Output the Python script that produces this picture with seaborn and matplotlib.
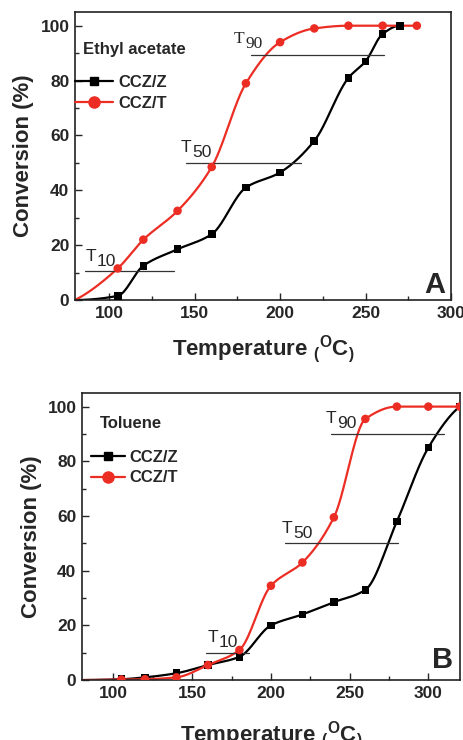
import numpy as np
import pandas as pd
import matplotlib
matplotlib.use("Agg")
import matplotlib.pyplot as plt
import seaborn as sns
from matplotlib.lines import Line2D
from matplotlib.ticker import MultipleLocator

# ---------------- data ----------------
# Panel A: Ethyl acetate
temp_a_z = [105, 120, 140, 160, 180, 200, 220, 240, 250, 260, 270]
conv_a_z = [1.5, 12.5, 18.5, 24, 41, 46.5, 58, 81, 87, 97, 100]
temp_a_t = [105, 120, 140, 160, 180, 200, 220, 240, 260, 280]
conv_a_t = [11.5, 22, 32.5, 48.5, 79, 94, 99, 100, 100, 100]

# Panel B: Toluene
temp_b_z = [105, 120, 140, 160, 180, 200, 220, 240, 260, 280, 300, 320]
conv_b_z = [0.3, 1, 2.5, 5.5, 8.5, 20, 24, 28.5, 33, 58, 85, 100]
temp_b_t = [105, 120, 140, 160, 180, 200, 220, 240, 260, 280, 300, 320]
conv_b_t = [0.2, 0.3, 1, 5.5, 11, 34.5, 43, 59.5, 95.5, 100, 100, 100]

# T10 / T50 / T90 reference segments: (level, x_start, x_end)
tlines_a = [(10.5, 86, 138), (50, 145, 212), (89.5, 183, 261)]
tlines_b = [(10, 159, 186), (50, 209, 281), (90, 238, 310)]
tlabel_x_a = [86, 142, 173]
tlabel_x_b = [160, 207, 235]
tlabels = ["10", "50", "90"]

series_names = ["CCZ/Z", "CCZ/T"]
RED = "#ec2d24"
BLACK = "#000000"

sns.set_theme(style="ticks")
plt.rcParams["font.family"] = ["Liberation Sans", "DejaVu Sans"]
plt.rcParams["mathtext.fontset"] = "custom"
plt.rcParams["mathtext.rm"] = "Liberation Sans"
plt.rcParams["mathtext.bf"] = "Liberation Sans:bold"
plt.rcParams["mathtext.it"] = "Liberation Sans:italic"


def pchip(x, y, xs):
    x = np.asarray(x, float)
    y = np.asarray(y, float)
    h = np.diff(x)
    delta = np.diff(y) / h
    n = len(x)
    d = np.zeros(n)
    for k in range(1, n - 1):
        if delta[k - 1] * delta[k] > 0:
            w1 = 2 * h[k] + h[k - 1]
            w2 = h[k] + 2 * h[k - 1]
            d[k] = (w1 + w2) / (w1 / delta[k - 1] + w2 / delta[k])
    d[0] = ((2 * h[0] + h[1]) * delta[0] - h[0] * delta[1]) / (h[0] + h[1])
    if np.sign(d[0]) != np.sign(delta[0]):
        d[0] = 0
    d[-1] = ((2 * h[-1] + h[-2]) * delta[-1] - h[-1] * delta[-2]) / (h[-1] + h[-2])
    if np.sign(d[-1]) != np.sign(delta[-1]):
        d[-1] = 0
    idx = np.clip(np.searchsorted(x, xs) - 1, 0, n - 2)
    t = (xs - x[idx]) / h[idx]
    h00 = 2 * t**3 - 3 * t**2 + 1
    h10 = t**3 - 2 * t**2 + t
    h01 = -2 * t**3 + 3 * t**2
    h11 = t**3 - t**2
    return h00 * y[idx] + h10 * h[idx] * d[idx] + h01 * y[idx + 1] + h11 * h[idx] * d[idx + 1]


def smooth_df(tx, cy, name):
    xx = np.concatenate([[80.0], tx])
    yy = np.concatenate([[0.0], cy])
    xs = np.linspace(xx[0], xx[-1], 400)
    return pd.DataFrame({"T": xs, "C": pchip(xx, yy, xs), "s": name})


fig = plt.figure(figsize=(4.64, 7.40), dpi=100)
axA = fig.add_axes([0.1616, 0.5946, 0.972 - 0.1616, 0.9838 - 0.5946])
axB = fig.add_axes([0.1767, 0.081, 0.991 - 0.1767, 0.469 - 0.081])

panels = [
    dict(ax=axA, tz=temp_a_z, cz=conv_a_z, tt=temp_a_t, ct=conv_a_t, tl=tlines_a, tlx=tlabel_x_a,
         xlim=(80, 300), title="Ethyl acetate", tpos=(0.021, 0.87), letter="A",
         lpos=(0.984, 0.025), leg=(0.0, 0.782), hl=2.3),
    dict(ax=axB, tz=temp_b_z, cz=conv_b_z, tt=temp_b_t, ct=conv_b_t, tl=tlines_b, tlx=tlabel_x_b,
         xlim=(80, 320), title="Toluene", tpos=(0.048, 0.895), letter="B",
         lpos=(0.981, 0.042), leg=(0.025, 0.803), hl=2.0),
]

for p in panels:
    ax = p["ax"]
    dz = smooth_df(p["tz"], p["cz"], "CCZ/Z")
    dt = smooth_df(p["tt"], p["ct"], "CCZ/T")
    sns.lineplot(data=dz, x="T", y="C", color=BLACK, lw=1.6, ax=ax, legend=False)
    sns.lineplot(data=dt, x="T", y="C", color=RED, lw=1.6, ax=ax, legend=False)
    sns.scatterplot(x=p["tz"], y=p["cz"], marker="s", s=30, color=BLACK, edgecolor="none", ax=ax, zorder=5)
    sns.scatterplot(x=p["tt"], y=p["ct"], marker="o", s=38, color=RED, edgecolor="none", ax=ax, zorder=5)

    for i, ((lev, x0, x1), lab, lx) in enumerate(zip(p["tl"], tlabels, p["tlx"])):
        ax.plot([x0, x1], [lev, lev], color="#333333", lw=0.9, zorder=3)
        serif = (p["letter"] == "A" and lab == "90")
        fam = ["Liberation Serif"] if serif else ["Liberation Sans"]
        ax.annotate("T", (lx, lev), xytext=(0, 5.5), textcoords="offset points",
                    fontsize=12.5, family=fam, ha="left", va="bottom")
        ax.annotate(lab, (lx, lev), xytext=(8.0, 1.8), textcoords="offset points",
                    fontsize=12.5, family=fam, ha="left", va="bottom")

    ax.set_xlim(*p["xlim"])
    ax.set_ylim(0, 105)
    ax.xaxis.set_major_locator(MultipleLocator(50))
    ax.xaxis.set_minor_locator(MultipleLocator(25))
    ax.yaxis.set_major_locator(MultipleLocator(20))
    ax.yaxis.set_minor_locator(MultipleLocator(10))
    ax.tick_params(which="both", direction="in", top=False, right=False, width=1)
    ax.tick_params(which="major", length=5, labelsize=12.5, pad=4)
    ax.tick_params(which="minor", length=3)
    for lbl in ax.get_xticklabels() + ax.get_yticklabels():
        lbl.set_fontweight("bold")
    for sp in ax.spines.values():
        sp.set_visible(True)
        sp.set_linewidth(1.2)
        sp.set_color("#222222")

    ax.set_xlabel(r"Temperature $_{\mathregular{(}}$$^{\mathbf{O}}$$\mathbf{C}$$_{\mathregular{)}}$",
                  fontsize=16, fontweight="bold")
    ax.set_ylabel("Conversion (%)", fontsize=16, fontweight="bold")

    ax.text(p["tpos"][0], p["tpos"][1], p["title"], transform=ax.transAxes,
            fontsize=12, fontweight="bold", ha="left", va="center")
    ax.text(p["lpos"][0], p["lpos"][1], p["letter"], transform=ax.transAxes, fontsize=21,
            fontweight="bold", ha="right", va="baseline")

    handles = [
        Line2D([], [], color=BLACK, marker="s", markersize=6, lw=1.6),
        Line2D([], [], color=RED, marker="o", markersize=8, lw=1.6),
    ]
    ax.legend(handles, series_names, loc="upper left", bbox_to_anchor=p["leg"],
              frameon=False, handlelength=p["hl"], handletextpad=0.3,
              labelspacing=0.35, borderaxespad=0.0, borderpad=0.0,
              prop={"weight": "bold", "size": 12})

axA.yaxis.set_label_coords(-0.108, 0.5)
axB.yaxis.set_label_coords(-0.105, 0.5)
axA.xaxis.set_label_coords(0.5, -0.113)
axB.xaxis.set_label_coords(0.5, -0.135)

fig.savefig("out.png", dpi=100)
